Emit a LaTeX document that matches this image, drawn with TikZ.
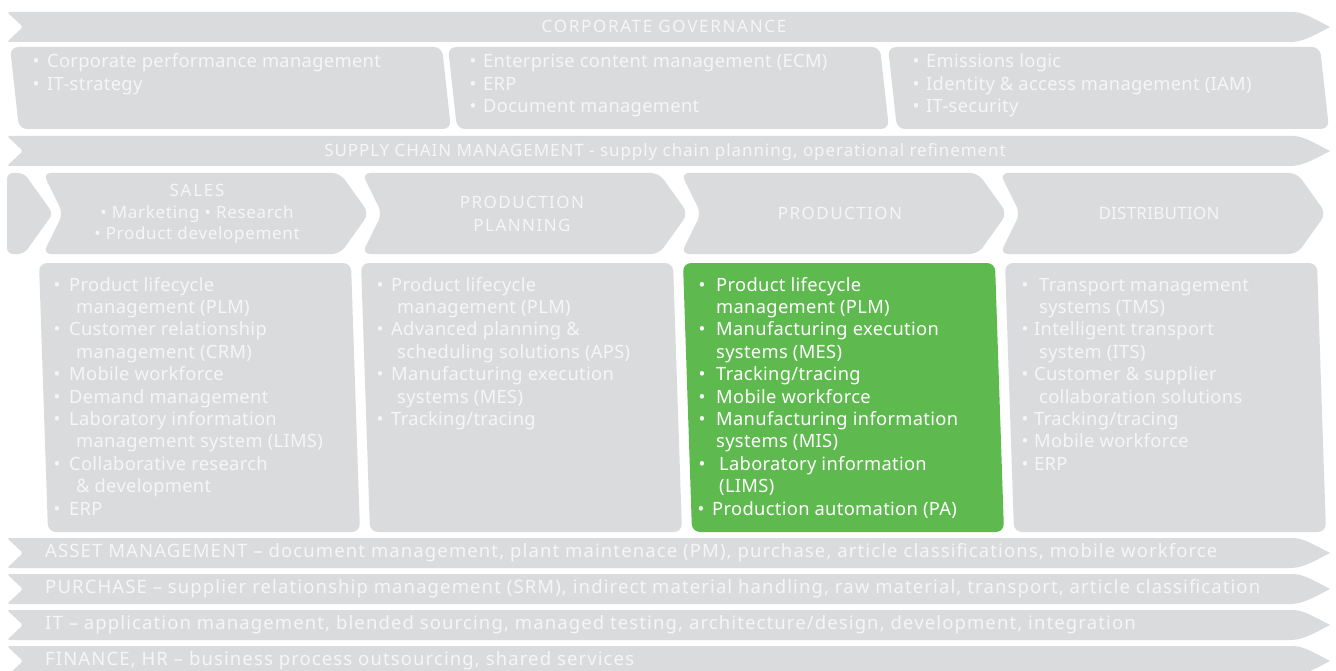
\documentclass[tikz,border=0pt]{standalone}
\usepackage{fontspec}
\setmainfont{Noto Sans}
\definecolor{bg}{HTML}{DADBDD}
\definecolor{tx}{HTML}{F6F6F7}
\definecolor{gr}{HTML}{5EBA4E}
\newcounter{lnc}
\newcommand\bl[4]{\stepcounter{lnc}%
 \node[lst,anchor=base] (b\arabic{lnc}) at (#1,#3) {\textbullet};
 \node[lst,anchor=base west] (t\arabic{lnc}) at (#2,#3) {#4};}
\newcommand\cl[3]{\stepcounter{lnc}%
 \node[lst,anchor=base west] (t\arabic{lnc}) at (#1,#2) {#3};}
\newcommand\band[1]{%
 \fill[bg,rounded corners=2.5] (7,#1) -- (1291,#1) [sharp corners] .. controls (1304,#1) and (1318,{#1+9}) .. (1330,{#1+15})
   .. controls (1318,{#1+21}) and (1304,{#1+30}) .. (1291,{#1+30}) [rounded corners=2.5] -- (7,{#1+30}) -- (23,{#1+15}) -- cycle;}
\newcommand\chev[1]{%
 \fill[bg,rounded corners=8] (#1,173) -- ({#1+297},173) -- ({#1+326},213.5) -- ({#1+297},254) -- (#1,254) -- ({#1+20},213.5) -- cycle;}
\newcommand\gbox[2]{%
 \fill[#2,rounded corners=8] (#1,47) -- ({#1+432},47) -- ({#1+441},129) -- ({#1+9},129) -- cycle;}
\newcommand\cbox[2]{%
 \fill[#2,rounded corners=8] (#1,263) -- ({#1+312},263) -- ({#1+321},532) -- ({#1+9},532) -- cycle;}
\begin{document}
\begin{tikzpicture}[x=1pt,y=-1pt,
  lst/.style={text=tx,inner sep=0pt,font=\fontsize{18.3}{22}\selectfont\addfontfeatures{LetterSpace=1.8}},
  hd/.style={text=tx,inner sep=0pt,anchor=base,font=\fontsize{17}{20}\selectfont\addfontfeatures{LetterSpace=#1}},
  hd/.default=4,
  bt/.style={text=tx,inner sep=0pt,anchor=base west,font=\fontsize{18.5}{22}\selectfont\addfontfeatures{LetterSpace=6}}]
\useasboundingbox (0,0) rectangle (1336,671);
% bands
\band{12}
\band{136}
\band{538}
\band{574}
\band{610}
\band{646}
% governance boxes
\gbox{10}{bg}
\gbox{448}{bg}
\gbox{888}{bg}
% chevrons
\fill[bg,rounded corners=6] (7,173) -- (24,173) -- (53,213.5) -- (24,254) -- (7,254) -- cycle;
\chev{43}
\chev{362}
\chev{681}
\chev{1000}
% column boxes
\cbox{39}{bg}
\cbox{361}{bg}
\cbox{683}{gr}
\cbox{1005}{bg}
% band titles
\node[hd=10] (cg) at (664,33) {CORPORATE GOVERNANCE};
\node[hd=5.5] (scm) at (665,157) {SUPPLY CHAIN MANAGEMENT - supply chain planning, operational refinement};
% governance lists
\bl{36}{47}{68}{Corporate performance management}
\bl{36}{47}{90.5}{IT-strategy}
\bl{473}{483}{68}{Enterprise content management (ECM)}
\bl{473}{483}{90.5}{ERP}
\bl{473}{483}{113}{Document management}
\bl{916}{926}{68}{Emissions logic}
\bl{916}{926}{90.5}{Identity \& access management (IAM)}
\bl{916}{926}{113}{IT-security}
% chevron titles
\node[hd=10] (sales) at (197,197) {SALES};
\node[hd=4] (sal2) at (197,219) {\textbullet\ Marketing \textbullet\ Research};
\node[hd=4] (sal3) at (197,240) {\textbullet\ Product developement};
\node[hd=8.5] (pp1) at (522,209) {PRODUCTION};
\node[hd=8.5] (pp2) at (522,232) {PLANNING};
\node[hd=8.5] (prod) at (840,220) {PRODUCTION};
\node[hd=1.5] (dist) at (1159,220) {DISTRIBUTION};
% column 1
\bl{57}{69}{291}{Product lifecycle}
\cl{76}{313.4}{management (PLM)}
\bl{57}{69}{335.8}{Customer relationship}
\cl{76}{358.2}{management (CRM)}
\bl{57}{69}{380.6}{Mobile workforce}
\bl{57}{69}{403}{Demand management}
\bl{57}{69}{425.4}{Laboratory information}
\cl{76}{447.8}{management system (LIMS)}
\bl{57}{69}{470.2}{Collaborative research}
\cl{76}{492.6}{\& development}
\bl{57}{69}{515}{ERP}
% column 2
\bl{380}{391}{291}{Product lifecycle}
\cl{397}{313.4}{management (PLM)}
\bl{380}{391}{335.8}{Advanced planning \&}
\cl{397}{358.2}{scheduling solutions (APS)}
\bl{380}{391}{380.6}{Manufacturing execution}
\cl{397}{403}{systems (MES)}
\bl{380}{391}{425.4}{Tracking/tracing}
% column 3 (green)
\begin{scope}[lst/.append style={text=white}]
\bl{702}{716}{291}{Product lifecycle}
\cl{716}{313.4}{management (PLM)}
\bl{702}{716}{335.8}{Manufacturing execution}
\cl{716}{358.2}{systems (MES)}
\bl{702}{716}{380.6}{Tracking/tracing}
\bl{702}{716}{403}{Mobile workforce}
\bl{702}{716}{425.4}{Manufacturing information}
\cl{716}{447.8}{systems (MIS)}
\bl{702}{719}{470.2}{Laboratory information}
\cl{719}{492.6}{(LIMS)}
\bl{701}{712}{515}{Production automation (PA)}
\end{scope}
% column 4
\bl{1025}{1039}{291}{Transport management}
\cl{1039}{313.4}{systems (TMS)}
\bl{1025}{1034}{335.8}{Intelligent transport}
\cl{1039}{358.2}{system (ITS)}
\bl{1025}{1034}{380.6}{Customer \& supplier}
\cl{1039}{403}{collaboration solutions}
\bl{1025}{1034}{425.4}{Tracking/tracing}
\bl{1025}{1034}{447.8}{Mobile workforce}
\bl{1025}{1034}{470.2}{ERP}
% bottom bands
\node[bt] (am) at (45,557.5) {ASSET MANAGEMENT – document management, plant maintenace (PM), purchase, article classifications, mobile workforce};
\node[bt] (pu) at (45,593.5) {PURCHASE – supplier relationship management (SRM), indirect material handling, raw material, transport, article classification};
\node[bt] (it) at (45,629.5) {IT – application management, blended sourcing, managed testing, architecture/design, development, integration};
\node[bt] (fi) at (45,665.5) {FINANCE, HR – business process outsourcing, shared services};
\end{tikzpicture}
\end{document}
